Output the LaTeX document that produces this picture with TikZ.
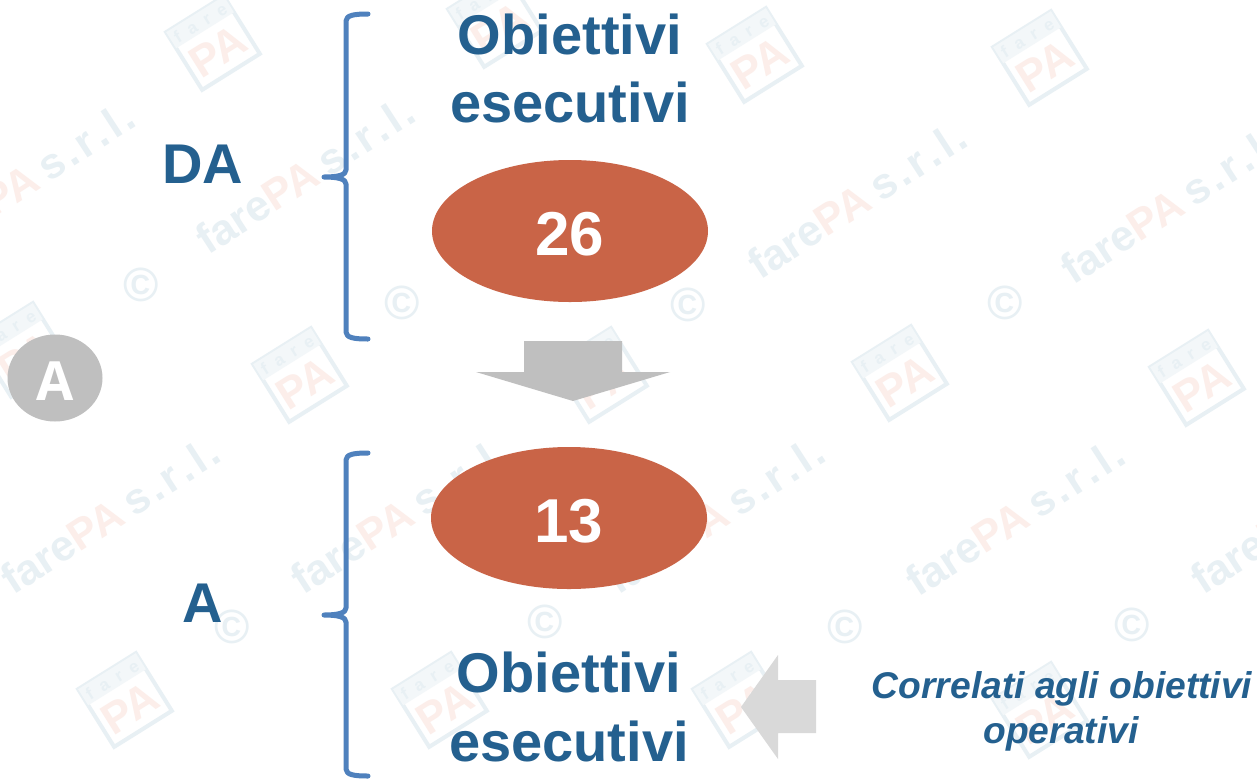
\documentclass[tikz,border=0pt]{standalone}
\usepackage{fontspec}
\setmainfont{Liberation Sans}
\newfontfamily\badgefont{Open Sans}
\definecolor{titleblue}{HTML}{24608F}
\definecolor{bracecol}{HTML}{4F81BD}
\definecolor{ovalcol}{HTML}{C96447}
\definecolor{wmblue}{HTML}{E8F0F4}
\definecolor{wmpale}{HTML}{F3F7F9}
\definecolor{wmred}{HTML}{FCEEEA}
\tikzset{
  x=1pt,y=-1pt,
  title/.style={font=\bfseries\fontsize{56}{56}\selectfont,text=titleblue,anchor=base,inner sep=0pt},
  oval/.style={ellipse,fill=ovalcol,minimum width=276pt,minimum height=142pt,inner sep=0pt},
  ovaltext/.style={font=\bfseries\fontsize{62}{62}\selectfont,text=white,anchor=base,inner sep=0pt},
  note/.style={font=\bfseries\itshape\fontsize{37.2}{37.2}\selectfont,text=titleblue,anchor=base,inner sep=0pt},
  brace/.style={draw=bracecol,line width=5pt,line cap=round,line join=round},
  wmtext/.style={font=\bfseries\fontsize{43}{43}\selectfont,rotate=33,inner sep=0pt},
  wmcopy/.style={font=\bfseries\fontsize{48}{48}\selectfont,text=wmblue,inner sep=0pt},
  wmlogoa/.style={transform shape,inner sep=0pt,text=wmblue,font=\bfseries\fontsize{17}{17}\selectfont},
  wmlogob/.style={transform shape,inner sep=0pt,text=wmred,font=\bfseries\fontsize{44}{44}\selectfont},
}
\usetikzlibrary{shapes.geometric}
\newcommand{\wmlogo}[2]{%
  \begin{scope}[shift={(#1,#2)},rotate=32]
    \draw[wmblue,line width=4pt,fill=white] (-34,-34) rectangle (34,34);
    \fill[wmpale] (-34,-34) rectangle (34,-15);
    \node[wmlogoa] at (0,-24) {f\hspace{.55em}a\hspace{.55em}r\hspace{.55em}e};
    \node[wmlogob] at (0,10) {PA};
  \end{scope}}
\newcommand{\wmline}[2]{%
  \node[wmtext] at (#1,#2) {\textcolor{wmblue}{fare}\textcolor{wmred}{PA}\hspace{.2em}\textcolor{wmblue}{s\hspace{.08em}.\hspace{.08em}r\hspace{.08em}.\hspace{.08em}l\hspace{.08em}.}};}
\begin{document}
\begin{tikzpicture}
\useasboundingbox (0,0) rectangle (1257,780);
\fill[white] (0,0) rectangle (1257,780);
% watermark
\wmline{25}{180}\wmline{305}{175}\wmline{857}{200}\wmline{1170}{205}
\wmline{110}{515}\wmline{400}{515}\wmline{715}{515}\wmline{1015}{517}\wmline{1300}{515}
\foreach \px/\py in {141/285,402/303,688/305,1005/303,232/627,545/622,845/627,1132/625}
  \node[wmcopy] at (\px,\py) {©};
\wmlogo{213}{43}\wmlogo{495}{20}\wmlogo{755}{55}\wmlogo{1040}{58}
\wmlogo{22}{350}\wmlogo{300}{375}\wmlogo{600}{375}\wmlogo{900}{373}\wmlogo{1197}{378}
\wmlogo{125}{700}\wmlogo{440}{700}\wmlogo{740}{700}\wmlogo{1040}{710}
% braces
\draw[brace] (368,14) .. controls (355,14) and (346,15) .. (346,21) -- (346,170)
  .. controls (346,175) and (338,177) .. (324,177)
  (324,177) .. controls (338,177) and (346,179) .. (346,184) -- (346,332)
  .. controls (346,338) and (355,339) .. (368,339);
\draw[brace] (368,453) .. controls (355,453) and (346,454) .. (346,460) -- (346,608)
  .. controls (346,613) and (338,615) .. (324,615)
  (324,615) .. controls (338,615) and (346,617) .. (346,622) -- (346,769)
  .. controls (346,775) and (355,776) .. (368,776);
% labels
\node[title] (da) at (203,183) {DA};
\node[title] (a) at (203,622) {A};
\node[title] (ob1) at (570,54) {Obiettivi};
\node[title] (es1) at (570,122) {esecutivi};
\node[title] (ob2) at (569,692) {Obiettivi};
\node[title] (es2) at (569,761) {esecutivi};
% ovals
\node[oval] (o1) at (570,231) {};
\node[ovaltext] (n1) at (570,255) {26};
\node[oval] (o2) at (569,518) {};
\node[ovaltext] (n2) at (569,542) {13};
% block arrows
\fill[fill=black!25] (524,341) -- (622,341) -- (622,372) -- (670,372) -- (573,401) -- (476,372) -- (524,372) -- cycle;
\fill[fill=black!15] (741,707) -- (778,655) -- (778,680) -- (816,680) -- (816,733) -- (778,733) -- (778,759) -- cycle;
% badge
\node[ellipse,fill=black!25,minimum width=95pt,minimum height=87pt,inner sep=0pt] (badge) at (55,378) {};
\node[font=\badgefont\bfseries\fontsize{54}{54}\selectfont,text=white,anchor=base,inner sep=0pt] (badgetext) at (55,400) {A};
% note
\node[note] (c1) at (1062,698) {Correlati agli obiettivi};
\node[note] (c2) at (1061,743) {operativi};
\end{tikzpicture}
\end{document}
